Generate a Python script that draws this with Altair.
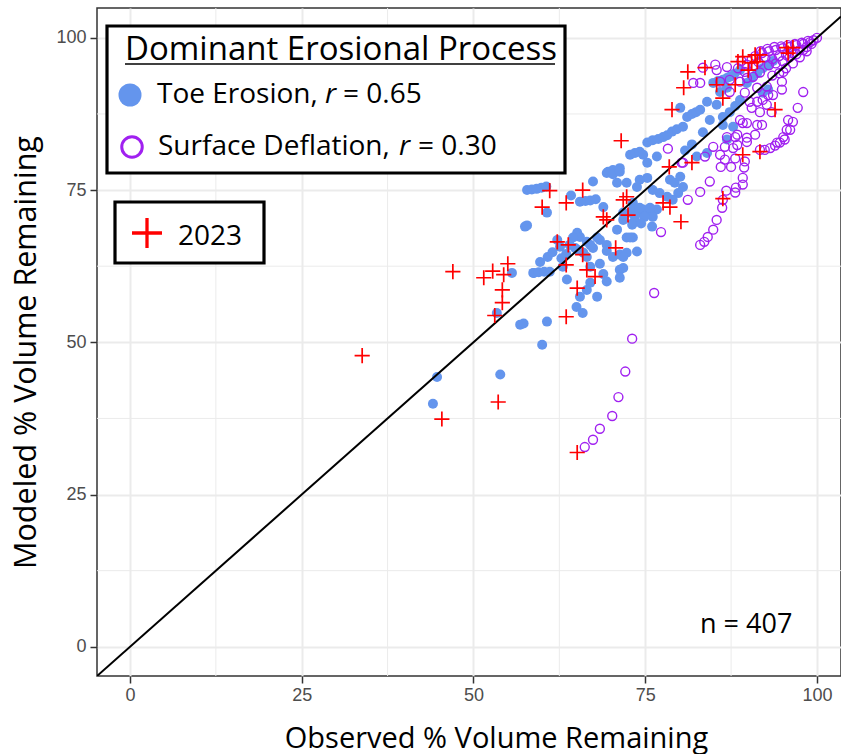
import altair as alt
import pandas as pd

# ---------------- data ----------------
# Toe Erosion (observed %, modeled %)
toe_points = [
    (44.7, 44.3), (44.1, 39.9), (53.9, 44.7), (60.0, 49.6), (56.8, 52.9), (57.3, 53.1),
    (60.7, 53.4), (53.4, 54.8), (55.6, 61.4), (58.8, 61.4),
    (57.8, 75.0), (58.5, 75.1), (59.2, 75.2), (59.9, 75.4), (60.6, 75.6),
    (60.7, 71.3), (57.5, 69.0), (57.8, 69.2), (64.2, 74.1), (67.4, 76.4), (65.5, 73.1),
    (66.3, 73.2), (67.0, 73.3), (67.8, 73.5), (68.9, 72.2), (69.6, 78.0), (70.9, 76.2),
    (70.3, 78.3), (71.3, 78.6),
    (58.7, 61.4), (59.5, 61.5), (60.3, 61.6), (61.1, 61.6), (59.7, 63.2), (60.8, 64.0),
    (61.5, 64.8), (62.6, 65.7), (62.2, 66.8), (63.0, 62.4), (63.6, 60.3), (65.1, 68.0),
    (65.5, 67.3), (66.5, 66.5), (67.4, 65.5), (68.4, 66.8), (69.4, 65.0), (70.3, 64.0),
    (66.0, 64.7), (67.0, 62.4), (68.4, 62.9), (68.9, 61.2), (69.4, 60.0), (65.5, 57.5),
    (68.0, 57.5), (65.0, 55.8), (65.9, 54.8), (71.3, 61.9), (71.3, 60.6), (72.3, 67.2),
    (73.2, 67.2), (71.3, 64.4), (72.3, 64.7), (73.8, 64.9), (71.8, 71.3), (73.2, 69.6),
    (72.3, 76.2), (73.8, 75.5),
    (64.5, 67.2), (64.0, 66.0), (65.1, 65.2), (66.5, 64.0), (67.0, 66.0), (68.0, 67.2),
    (69.4, 66.0), (70.9, 68.5), (71.8, 70.1), (72.8, 71.3), (73.8, 71.3), (73.2, 72.9),
    (66.5, 58.6), (67.0, 59.8), (64.8, 65.5), (63.5, 64.5), (62.8, 63.8),
    (78.6, 76.7), (79.3, 76.2), (80.1, 77.2), (80.5, 75.5), (79.8, 74.5), (79.0, 73.4),
    (78.2, 73.9), (77.1, 74.5), (76.1, 75.0), (76.7, 71.8), (75.7, 71.3), (76.1, 70.6),
    (76.0, 69.0), (74.7, 71.8), (75.7, 72.1), (74.9, 70.6), (74.4, 69.5), (72.8, 67.2),
    (71.8, 64.0), (71.8, 62.2), (73.2, 71.8), (74.2, 72.1), (73.5, 70.6), (73.1, 69.3),
    (76.7, 80.5), (75.3, 77.0), (74.2, 76.7), (75.3, 79.5),
    (69.4, 77.8), (70.3, 77.6), (71.3, 78.0), (72.8, 80.8), (73.5, 81.1), (74.2, 81.3),
    (74.7, 80.8), (75.3, 82.8), (76.1, 83.2), (76.9, 83.4), (77.6, 83.7), (78.2, 84.0),
    (78.9, 84.6), (79.6, 85.0), (80.5, 85.4), (81.1, 87.0), (81.8, 87.5), (82.4, 87.8),
    (83.0, 88.2), (84.0, 89.5), (80.1, 88.5), (84.9, 92.6), (85.6, 92.9), (86.3, 93.1),
    (86.9, 93.4), (87.3, 93.6), (88.0, 94.1), (88.8, 94.7), (86.9, 91.8), (85.9, 91.1),
    (86.3, 87.0), (87.3, 87.8), (88.1, 88.8), (88.8, 89.8), (87.8, 85.4), (86.3, 85.7),
    (86.9, 83.3), (84.0, 81.1), (82.5, 80.5), (89.8, 92.6), (90.5, 93.4), (91.3, 94.2),
    (92.1, 95.0), (92.9, 95.6), (93.6, 96.2), (92.1, 91.0), (92.9, 91.5), (85.4, 89.0),
    (84.4, 86.5), (83.4, 84.5), (81.8, 82.5), (80.8, 81.5),
]

# Surface Deflation (observed %, modeled %)
deflation_points = [
    (76.3, 58.1), (73.1, 50.6), (72.1, 45.2), (71.1, 41.0), (70.2, 37.9), (68.4, 35.8),
    (67.4, 34.0), (66.2, 32.8),
    (77.3, 68.1), (78.3, 81.8), (80.3, 79.5), (81.2, 73.4), (83.0, 74.7), (84.4, 76.4),
    (83.0, 66.0), (83.6, 66.5), (84.1, 67.3), (84.9, 68.5), (85.4, 70.1), (86.2, 72.1),
    (86.3, 73.4), (86.8, 74.9), (88.1, 74.6), (88.2, 75.4), (89.2, 75.9), (89.2, 77.0),
    (89.4, 78.7), (89.5, 79.7),
    (85.9, 80.8), (87.5, 78.8), (86.0, 78.8), (84.9, 82.1), (86.6, 82.1), (87.8, 81.9),
    (86.9, 83.7), (88.4, 84.1), (89.8, 83.6), (91.0, 84.1),
    (92.4, 81.6), (93.2, 81.9), (93.9, 82.3), (94.6, 82.8), (95.3, 83.3), (96.1, 84.9),
    (96.5, 86.2), (92.0, 85.7), (89.2, 86.0), (89.8, 86.0),
    (80.5, 79.5), (83.7, 80.5), (86.6, 80.0), (88.1, 80.2),
    (83.4, 95.1), (85.2, 95.6), (86.9, 95.2), (85.4, 94.7), (82.0, 92.6), (83.0, 92.6),
    (85.9, 92.8), (87.3, 93.1), (88.8, 92.8), (89.8, 93.4), (90.7, 93.6), (91.7, 94.3),
    (87.3, 91.1), (89.5, 91.0), (91.3, 91.8), (92.7, 92.0), (95.1, 94.4), (94.9, 92.8),
    (94.9, 91.5), (98.0, 91.1), (90.2, 89.5), (91.3, 89.5), (92.1, 89.8), (92.9, 90.6),
    (93.6, 90.6), (90.5, 88.5), (91.7, 87.8), (93.4, 87.8), (92.7, 89.0), (97.2, 88.5),
    (95.8, 86.5), (88.8, 86.5), (91.3, 85.7), (95.6, 84.9), (95.1, 83.7), (94.2, 82.8),
    (91.7, 81.6), (88.1, 83.7), (88.4, 82.4), (89.8, 82.9),
    (90.5, 96.5), (91.0, 97.0), (91.5, 96.0), (92.0, 97.5), (92.5, 96.8), (93.0, 97.8),
    (93.5, 96.5), (93.0, 95.5), (94.0, 98.0), (94.5, 97.0), (94.0, 95.8), (95.0, 98.3),
    (95.5, 97.2), (95.0, 96.2), (96.0, 98.5), (96.5, 97.5), (96.0, 96.8), (97.0, 98.8),
    (97.5, 98.0), (97.0, 97.3), (98.0, 99.0), (98.5, 98.5), (98.0, 98.0), (99.0, 99.3),
    (99.5, 99.6), (100.0, 100.0), (99.2, 99.0), (98.7, 99.5), (97.8, 99.2), (96.8, 99.0),
    (95.8, 98.8), (94.8, 98.6), (93.8, 98.5), (92.8, 98.2), (91.8, 97.8), (90.8, 95.4),
    (89.8, 95.6), (89.0, 96.2), (88.5, 95.0), (89.5, 94.4), (96.5, 95.8), (97.5, 96.8),
    (98.5, 97.8), (95.5, 95.0), (94.5, 94.2), (93.5, 93.8),
]

# 2023 observations (observed %, modeled %)
y2023_points = [
    (33.8, 47.8), (47.0, 61.6), (45.4, 37.4), (53.6, 40.2), (51.5, 60.6), (52.8, 61.7),
    (55.0, 62.9), (54.4, 61.1), (54.2, 58.6), (54.2, 56.5), (53.1, 54.4),
    (61.1, 74.9), (65.9, 75.0), (60.0, 72.2), (63.5, 72.9), (72.3, 73.9), (71.8, 73.4),
    (72.5, 70.9), (68.9, 70.6), (69.4, 70.1), (62.2, 66.5), (63.8, 66.0), (65.9, 64.4),
    (63.5, 62.7), (70.7, 65.5), (66.5, 61.9), (67.7, 60.8), (65.1, 58.9), (63.5, 54.2),
    (71.5, 83.1), (78.5, 78.8), (81.8, 79.5), (89.2, 80.8), (91.7, 81.3), (86.3, 73.6),
    (80.2, 69.8), (77.6, 72.9), (78.6, 72.2), (65.1, 31.9),
    (81.2, 94.4), (80.6, 91.8), (78.9, 88.2), (85.4, 92.3), (88.1, 92.3), (86.3, 90.1),
    (83.7, 95.1), (89.2, 96.9), (88.5, 96.1), (91.0, 97.2), (91.3, 96.1), (91.7, 97.2),
    (90.5, 95.9), (90.0, 94.7), (95.6, 98.4), (96.5, 98.4), (95.8, 97.5), (93.9, 88.2),
]

major_ticks = [0, 25, 50, 75, 100]
minor_ticks = [12.5, 37.5, 62.5, 87.5]
x_domain = [-4.8, 103.5]
y_domain = [-4.8, 104.9]
one_to_one = [-4.8, 103.5]

# ---------------- styling ----------------
W, H = 744, 668
TEXT_FONT = "Open Sans"
TICK_FONT = "Liberation Sans"
BLUE = "#6495ED"
PURPLE = "#A020F0"
RED = "#FF0000"
CROSS = "M-1,0H1M0,-1V1"

toe_df = pd.DataFrame(toe_points, columns=["obs", "mod"])
def_df = pd.DataFrame(deflation_points, columns=["obs", "mod"])
y23_df = pd.DataFrame(y2023_points, columns=["obs", "mod"])
line_df = pd.DataFrame({"obs": one_to_one, "mod": one_to_one})
minor_df = pd.DataFrame({"obs": minor_ticks, "mod": minor_ticks})
one = pd.DataFrame({"k": [0]})

xs = alt.Scale(domain=x_domain, nice=False, zero=False)
ys = alt.Scale(domain=y_domain, nice=False, zero=False)

axis_common = dict(
    values=major_ticks, grid=True, gridColor="#EBEBEB", gridWidth=2, domain=False,
    tickColor="#333333", tickSize=7, tickWidth=1.5, labelFont=TICK_FONT,
    labelFontSize=18, labelColor="#4D4D4D", titleFont=TEXT_FONT,
    titleFontWeight="normal", titleColor="black", titleAlign="center",
    titleBaseline="alphabetic",
)
x_axis = alt.Axis(title="Observed % Volume Remaining", labelPadding=3, titleFontSize=29,
                  titleX=399, titleY=71, **axis_common)
y_axis = alt.Axis(title="Modeled % Volume Remaining", labelPadding=4, titleFontSize=30.5,
                  titleAngle=270, titleX=-62, titleY=344, **axis_common)

X = alt.X("obs:Q", scale=xs, axis=x_axis)
Y = alt.Y("mod:Q", scale=ys, axis=y_axis)

minor_v = alt.Chart(minor_df).mark_rule(color="#EBEBEB", strokeWidth=1).encode(x=X)
minor_h = alt.Chart(minor_df).mark_rule(color="#EBEBEB", strokeWidth=1).encode(y=Y)

toe = alt.Chart(toe_df).mark_circle(color=BLUE, opacity=1, size=100).encode(x=X, y=Y)
defl = alt.Chart(def_df).mark_point(color=PURPLE, filled=False, strokeWidth=1.4,
                                    opacity=1, size=80).encode(x=X, y=Y)
diag = alt.Chart(line_df).mark_line(color="black", strokeWidth=2, clip=True).encode(
    x=X, y=Y)
y23 = alt.Chart(y23_df).mark_point(shape=CROSS, color=RED, filled=False,
                                   strokeWidth=1.7, opacity=1, size=230).encode(x=X, y=Y)

def box(x1, y1, x2, y2):
    return alt.Chart(one).mark_rect(fill="white", stroke="black", strokeWidth=3.2).encode(
        x=alt.value(x1), x2=alt.value(x2), y=alt.value(y1), y2=alt.value(y2))

def txt(s, x, y, size=28, style="normal"):
    return alt.Chart(one).mark_text(text=s, font=TEXT_FONT, fontSize=size, fontStyle=style,
                                    align="left", baseline="alphabetic", color="black").encode(
        x=alt.value(x), y=alt.value(y))

legend1 = [
    box(10, 18, 468, 165),
    txt("Dominant Erosional Process", 28, 52, size=33),
    alt.Chart(one).mark_rule(color="black", strokeWidth=1.5).encode(
        x=alt.value(28), x2=alt.value(458), y=alt.value(56)),
    alt.Chart(one).mark_circle(color=BLUE, opacity=1, size=530).encode(
        x=alt.value(33), y=alt.value(87)),
    txt("Toe Erosion,", 60, 95), txt("r", 228, 95, style="italic"), txt("= 0.65", 246, 95),
    alt.Chart(one).mark_point(color=PURPLE, filled=False, strokeWidth=3, opacity=1,
                              size=420).encode(x=alt.value(35), y=alt.value(139)),
    txt("Surface Deflation,", 61, 147), txt("r", 302, 147, style="italic"),
    txt("= 0.30", 321, 147),
]
legend2 = [
    box(18, 194, 167, 255),
    alt.Chart(one).mark_point(shape=CROSS, color=RED, filled=False, strokeWidth=3.3,
                              opacity=1, size=900).encode(x=alt.value(50), y=alt.value(225)),
    txt("2023", 81, 237, size=28),
]
n_label = txt("n = 407", 603, 625, size=27)

chart = alt.layer(
    minor_v, minor_h, toe, defl, diag, y23, *legend1, *legend2, n_label
).properties(
    width=W, height=H,
    autosize=alt.AutoSizeParams(type="none"),
    padding={"left": 97, "top": 8, "right": 0, "bottom": 78},
    background="white",
).configure_view(stroke="#333333", strokeWidth=1.5)

chart.save("out.html", embed_options={"renderer": "svg", "actions": False})
